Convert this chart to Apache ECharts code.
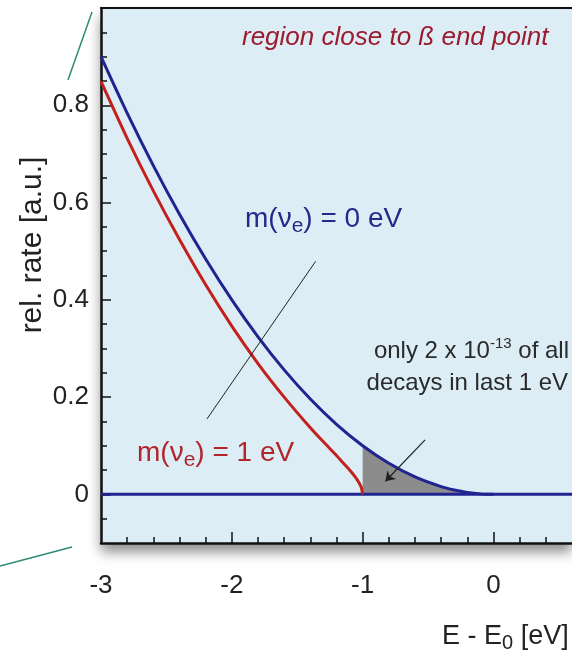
<!DOCTYPE html>
<html>
<head>
<meta charset="utf-8">
<script src="https://cdn.jsdelivr.net/npm/echarts@6/dist/echarts.min.js"></script>
<style>
html, body { margin: 0; padding: 0; background: #fff; }
#main { width: 572px; height: 668px; }
</style>
</head>
<body>
<div id="main"></div>
<script>
var FONT = '"Liberation Sans", Arial, sans-serif';

// m(nu) = 0 eV spectrum near end point
var blueX = [-3.0, -2.8, -2.6, -2.4, -2.2, -2.0, -1.8, -1.6, -1.4, -1.2, -1.0, -0.8, -0.6, -0.4, -0.3, -0.2, -0.1, 0.0];
var blueY = [0.90, 0.784, 0.676, 0.576, 0.484, 0.40, 0.324, 0.256, 0.196, 0.144, 0.10, 0.064, 0.036, 0.016, 0.009, 0.004, 0.001, 0.0];
// m(nu) = 1 eV spectrum
var redX = [-3.0, -2.8, -2.6, -2.4, -2.2, -2.0, -1.8, -1.6, -1.4, -1.3, -1.2, -1.15, -1.1, -1.06, -1.03, -1.01, -1.0];
var redY = [0.849, 0.732, 0.624, 0.524, 0.431, 0.346, 0.269, 0.200, 0.137, 0.108, 0.080, 0.065, 0.050, 0.037, 0.025, 0.014, 0.0];
// shaded last 1 eV
var shadeX = [-1.0, -0.8, -0.6, -0.4, -0.3, -0.2, -0.1, 0.0];
var shadeY = [0.10, 0.064, 0.036, 0.016, 0.009, 0.004, 0.001, 0.0];
var baseX = [-3, 0.6];
var baseY = [0, 0];

var xLabels = [-3, -2, -1, 0];
var xMajor = [-2, -1, 0];
var xMinor = [-2.8, -2.6, -2.4, -2.2, -1.8, -1.6, -1.4, -1.2, -0.8, -0.6, -0.4, -0.2, 0.2, 0.4];
var yLabels = [0, 0.2, 0.4, 0.6, 0.8];
var yMajor = [0, 0.2, 0.4, 0.6, 0.8];
var yMinor = [-0.05, 0.05, 0.1, 0.15, 0.25, 0.3, 0.35, 0.45, 0.5, 0.55, 0.65, 0.7, 0.75, 0.85, 0.9, 0.95];

// annotation leader lines (data coords)
var leaderLine = [[-2.19, 0.155], [-1.36, 0.479]];
var arrowLine = [[-0.523, 0.112], [-0.826, 0.027]];

function zip(xs, ys) {
    return xs.map(function (x, i) { return [x, ys[i]]; });
}

var chart = echarts.init(document.getElementById('main'));

var axisBase = {
    type: 'value',
    min: -3,
    max: 0.6,
    splitLine: { show: false }
};
var yBase = {
    type: 'value',
    min: -0.1,
    max: 1.0,
    splitLine: { show: false }
};

var option = {
    animation: false,
    grid: {
        left: 101, top: 8, right: -4, bottom: 125,
        show: true,
        backgroundColor: '#dcedf6',
        borderWidth: 0,
        shadowColor: 'rgba(0,0,0,0.45)',
        shadowBlur: 12,
        shadowOffsetY: 9,
        shadowOffsetX: 0
    },
    xAxis: [
        Object.assign({}, axisBase, {
            position: 'bottom',
            axisLine: { onZero: false, lineStyle: { color: '#111', width: 2.5 } },
            axisTick: { inside: true, length: 11, customValues: xMajor, lineStyle: { color: '#111', width: 1.5 } },
            axisLabel: {
                customValues: xLabels, margin: 30, color: '#222',
                fontSize: 26, fontFamily: FONT,
                formatter: function (v) { return String(v); }
            }
        }),
        Object.assign({}, axisBase, {
            position: 'bottom',
            axisLine: { show: false, onZero: false },
            axisTick: { inside: true, length: 6, customValues: xMinor, lineStyle: { color: '#111', width: 1.5 } },
            axisLabel: { show: false }
        }),
        Object.assign({}, axisBase, {
            // top frame line
            position: 'top',
            axisLine: { show: true, onZero: false, lineStyle: { color: '#111', width: 2 } },
            axisTick: { show: false },
            axisLabel: { show: false }
        })
    ],
    yAxis: [
        Object.assign({}, yBase, {
            position: 'left',
            axisLine: { show: true, onZero: false, lineStyle: { color: '#111', width: 2.5 } },
            axisTick: { show: true, inside: true, length: 10, customValues: yMajor, lineStyle: { color: '#111', width: 1.5 } },
            axisLabel: {
                customValues: yLabels, margin: 12, color: '#222',
                fontSize: 26, fontFamily: FONT,
                formatter: function (v) { return v === 0 ? '0' : v.toFixed(1); }
            }
        }),
        Object.assign({}, yBase, {
            position: 'left',
            axisLine: { show: false, onZero: false },
            axisTick: { show: true, inside: true, length: 6, customValues: yMinor, lineStyle: { color: '#111', width: 1.5 } },
            axisLabel: { show: false }
        })
    ],
    series: [
        {
            name: 'last 1 eV',
            type: 'line',
            data: zip(shadeX, shadeY),
            symbol: 'none',
            smooth: 0.3,
            lineStyle: { width: 0 },
            areaStyle: { color: '#8c8c8c', opacity: 1 },
            z: 1
        },
        {
            name: 'baseline',
            type: 'line',
            data: zip(baseX, baseY),
            symbol: 'none',
            lineStyle: { color: '#1f2490', width: 3 },
            z: 2
        },
        {
            name: 'm = 0 eV',
            type: 'line',
            data: zip(blueX, blueY),
            symbol: 'none',
            smooth: 0.3,
            lineStyle: { color: '#1f2490', width: 3 },
            z: 3,
            markLine: {
                silent: true,
                symbol: ['none', 'none'],
                lineStyle: { color: '#222', width: 1, type: 'solid' },
                label: { show: false },
                data: [
                    [{ coord: leaderLine[0] }, { coord: leaderLine[1] }]
                ]
            }
        },
        {
            name: 'm = 1 eV',
            type: 'line',
            data: zip(redX, redY),
            symbol: 'none',
            smooth: 0.2,
            lineStyle: { color: '#c4201c', width: 3 },
            z: 4,
            markLine: {
                silent: true,
                symbol: ['none', 'arrow'],
                symbolSize: 9,
                lineStyle: { color: '#222', width: 1.2, type: 'solid' },
                label: { show: false },
                data: [
                    [{ coord: arrowLine[0] }, { coord: arrowLine[1] }]
                ]
            }
        }
    ],
    graphic: [
        // decorative teal strokes outside the frame
        { type: 'line', shape: { x1: 68, y1: 80, x2: 92, y2: 12 }, style: { stroke: '#2d8a78', lineWidth: 1.5 }, silent: true },
        { type: 'line', shape: { x1: 0, y1: 566, x2: 72, y2: 547 }, style: { stroke: '#2d8a78', lineWidth: 1.5 }, silent: true },
        {
            type: 'text', left: 242, top: 25, z: 10,
            style: {
                text: 'region close to ß end point',
                fill: '#9b1c2e', fontFamily: FONT, fontSize: 26, fontStyle: 'italic'
            }
        },
        {
            type: 'text', left: 245, top: 205, z: 10,
            style: {
                text: 'm(ν{s|e}) = 0 eV',
                fill: '#26288a', fontFamily: FONT, fontSize: 28,
                rich: { s: { fontSize: 21, fontFamily: FONT, fill: '#26288a', padding: [14, 0, 0, 0] } }
            }
        },
        {
            type: 'text', left: 137, top: 439, z: 10,
            style: {
                text: 'm(ν{s|e}) = 1 eV',
                fill: '#b0262a', fontFamily: FONT, fontSize: 28,
                rich: { s: { fontSize: 21, fontFamily: FONT, fill: '#b0262a', padding: [14, 0, 0, 0] } }
            }
        },
        {
            type: 'text', right: 3, top: 336, z: 10,
            style: {
                text: 'only 2 x 10{p|-13} of all',
                fill: '#2a2a2a', fontFamily: FONT, fontSize: 24,
                rich: { p: { fontSize: 15, fontFamily: FONT, fill: '#2a2a2a', padding: [0, 0, 16, 0] } }
            }
        },
        {
            type: 'text', right: 4, top: 371, z: 10,
            style: {
                text: 'decays in last 1 eV',
                fill: '#2a2a2a', fontFamily: FONT, fontSize: 24
            }
        },
        {
            type: 'text', x: 33, y: 245, rotation: Math.PI / 2, z: 10,
            style: {
                text: 'rel. rate [a.u.]',
                fill: '#222', fontFamily: FONT, fontSize: 30,
                align: 'center', verticalAlign: 'middle'
            }
        },
        {
            type: 'text', left: 442, top: 623, z: 10,
            style: {
                text: 'E - E{s|0} [eV]',
                fill: '#222', fontFamily: FONT, fontSize: 27,
                rich: { s: { fontSize: 20, fontFamily: FONT, fill: '#222', padding: [14, 0, 0, 0] } }
            }
        }
    ]
};

chart.setOption(option);
</script>
</body>
</html>
